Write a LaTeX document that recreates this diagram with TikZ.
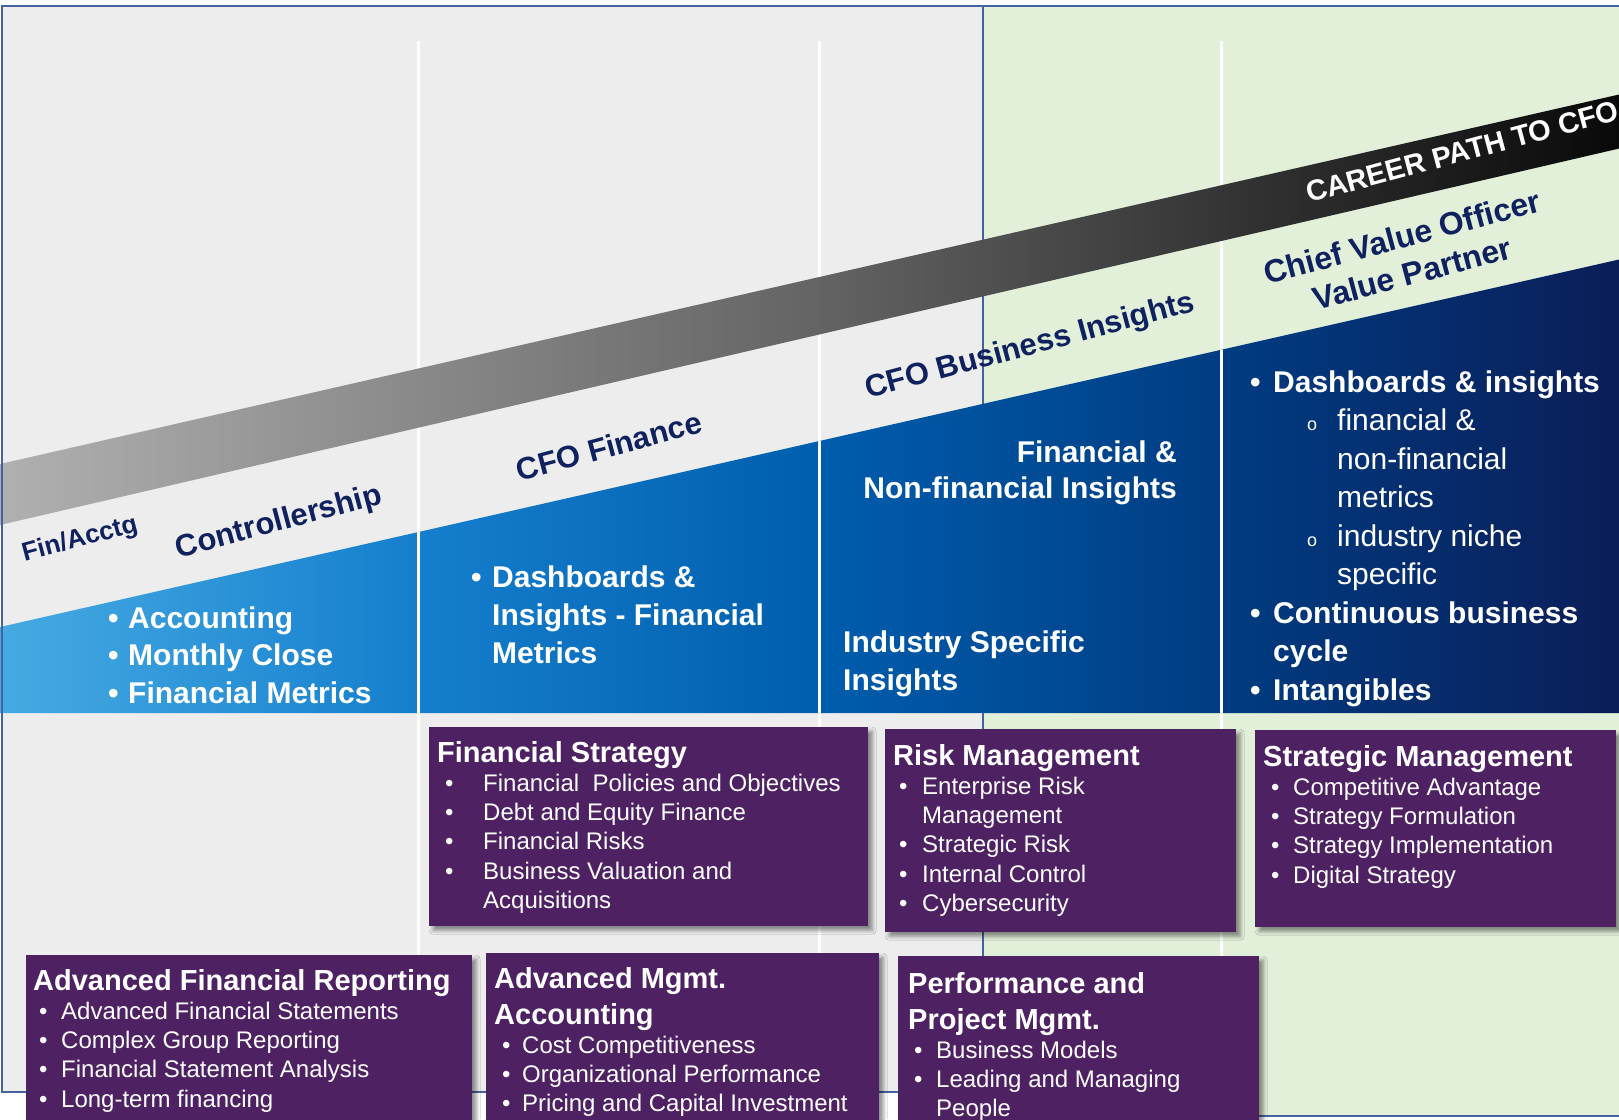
\documentclass[tikz,border=0pt]{standalone}
\usepackage{fontspec}
\setmainfont{Liberation Sans}
\usetikzlibrary{shadows.blur}

\definecolor{panelgray}{HTML}{EDEDED}
\definecolor{panelgreen}{HTML}{E2EFD9}
\definecolor{edgeblue}{HTML}{46629E}
\definecolor{labelnavy}{HTML}{10215F}
\definecolor{cardpurple}{HTML}{4E2163}
\definecolor{blueA}{HTML}{46AAE2}
\definecolor{blueB}{HTML}{1680CE}
\definecolor{blueC}{HTML}{005EAE}
\definecolor{blueD}{HTML}{003C82}
\definecolor{blueE}{HTML}{0B1D57}
\definecolor{pathA}{HTML}{B0B0B0}
\definecolor{pathB}{HTML}{646464}
\definecolor{pathC}{HTML}{353535}
\definecolor{pathD}{HTML}{080808}

\pgfdeclarehorizontalshading{bluefade}{100bp}{color(0bp)=(blueA); color(25bp)=(blueA); color(37.5bp)=(blueB); color(50bp)=(blueC); color(62.5bp)=(blueD); color(75bp)=(blueE); color(100bp)=(blueE)}
\pgfdeclarehorizontalshading{pathfade}{100bp}{color(0bp)=(pathA); color(25bp)=(pathA); color(50bp)=(pathB); color(62.5bp)=(pathC); color(75bp)=(pathD); color(100bp)=(pathD)}

% bullet lists
\newlength\bulin
\newlength\bulgap
\newcommand\bit[1]{\par\noindent\hspace*{\bulin}\makebox[\dimexpr\bulgap-\bulin\relax][l]{\textbullet}#1}
\newcommand\cont[1]{\par\noindent\hspace*{\bulgap}#1}
\newcommand\subit[1]{\par\noindent\hspace*{57pt}\makebox[30pt][l]{\fontsize{18}{18}\selectfont o}#1}
\newcommand\subcont[1]{\par\noindent\hspace*{87pt}#1}
\newcommand\cardtitle[1]{{\bfseries\fontsize{29}{36}\selectfont #1\par}}
\newcommand\cardlist[3]{\begin{minipage}[t]{460pt}\setlength\bulin{#1}\setlength\bulgap{#2}\fontsize{24}{29.3}\selectfont #3\par\end{minipage}}
\newcommand\bluelist[4]{\begin{minipage}[t]{420pt}\setlength\bulin{#1}\setlength\bulgap{#2}\bfseries\fontsize{30}{#3}\selectfont #4\par\end{minipage}}

\begin{document}
\begin{tikzpicture}[x=1pt, y=-1pt,
	rim/.style={draw=edgeblue, line width=1.5pt},
	divider/.style={draw=white, line width=3pt},
	lbl/.style={rotate=15, inner sep=0pt, text=labelnavy, font=\bfseries\fontsize{31}{38}\selectfont},
	bluetext/.style={anchor=base west, inner sep=0pt, text=white},
	card/.style={anchor=north west, fill=cardpurple, inner sep=0pt,
		blur shadow={shadow xshift=4pt, shadow yshift=-4pt, shadow blur radius=4pt, shadow opacity=45}},
	cardtext/.style={anchor=base west, inner sep=0pt, text=white}]

	\clip (0,0) rectangle (1619,1119);
	\fill[white] (0,0) rectangle (1619,1119);

	% panels
	\draw[rim, fill=panelgray] (2,6) rectangle (983,1092);
	\draw[rim, fill=panelgreen] (983,6) rectangle (1630,1116);
	\foreach \x in {418,819,1221}
		\draw[divider] (\x,41) -- (\x,1119);

	% career path band and blue stage area
	\shade[shading=pathfade] (0,464) -- (1630,92) -- (1630,146) -- (0,525) -- cycle;
	\shade[shading=bluefade] (0,627) -- (1630,257) -- (1630,713) -- (0,713) -- cycle;
	\begin{scope}
		\clip (0,627) -- (1630,257) -- (1630,713) -- (0,713) -- cycle;
		\foreach \x in {418,819,1221}
			\draw[divider] (\x,250) -- (\x,720);
	\end{scope}
	\draw[rim] (2,6) -- (2,1092);

	% stage labels
	\node[lbl, font=\bfseries\fontsize{26}{30}\selectfont] (finacctg) at (80,540) {Fin/Acctg};
	\node[lbl] (ctrl) at (279,523) {Controllership};
	\node[lbl] (cfofin) at (609,446) {CFO Finance};
	\node[lbl] (cfobi) at (1030,347) {CFO Business Insights};
	\node[lbl, anchor=base west, text=white, font=\bfseries\fontsize{29}{34}\selectfont] (career) at (1309,203) {CAREER PATH TO CFO};
	\node[lbl, align=center, font=\bfseries\fontsize{32}{38}\selectfont] (cvo) at (1407,255) {Chief Value Officer\\Value Partner};

	% stage contents
	\node[bluetext] (ctrlitems) at (108,628) {\bluelist{0pt}{20pt}{37.5}{%
		\bit{Accounting}\bit{Monthly Close}\bit{Financial Metrics}}};
	\node[bluetext] (finitems) at (471,587) {\bluelist{0pt}{21pt}{38}{%
		\bit{Dashboards \&}\cont{Insights - Financial}\cont{Metrics}}};
	\node[bluetext, anchor=base east] (fnfitems) at (1177,462) {\begin{minipage}[t]{400pt}\raggedleft
		\bfseries\fontsize{30}{36.5}\selectfont Financial \&\\Non-financial Insights\end{minipage}};
	\node[bluetext] (inditems) at (843,652) {\bluelist{0pt}{0pt}{38}{%
		\cont{Industry Specific}\cont{Insights}}};
	\node[bluetext] (cvoitems) at (1250,392) {\bluelist{0pt}{23pt}{38.5}{%
		\bit{Dashboards \& insights}
		{\mdseries\subit{financial \&}\subcont{non-financial}\subcont{metrics}
		\subit{industry niche}\subcont{specific}\par}
		\bit{Continuous business}\cont{cycle}\bit{Intangibles}}};

	% skill cards
	\node[card, minimum width=439pt, minimum height=199pt] (fs) at (429,727) {};
	\node[cardtext] (fs-text) at ([shift={(8,35)}]fs.north west) {\cardlist{8pt}{46pt}{%
		\cardtitle{Financial Strategy}
		\bit{Financial~~Policies and Objectives}\bit{Debt and Equity Finance}
		\bit{Financial Risks}\bit{Business Valuation and}\cont{Acquisitions}}};

	\node[card, minimum width=351pt, minimum height=203pt] (risk) at (885,729) {};
	\node[cardtext] (risk-text) at ([shift={(8,36)}]risk.north west) {\cardlist{6pt}{29pt}{%
		\cardtitle{Risk Management}
		\bit{Enterprise Risk}\cont{Management}\bit{Strategic Risk}
		\bit{Internal Control}\bit{Cybersecurity}}};

	\node[card, minimum width=361pt, minimum height=197pt] (stratm) at (1255,730) {};
	\node[cardtext] (stratm-text) at ([shift={(8,36)}]stratm.north west) {\cardlist{8pt}{30pt}{%
		\cardtitle{Strategic Management}
		\bit{Competitive Advantage}\bit{Strategy Formulation}
		\bit{Strategy Implementation}\bit{Digital Strategy}}};

	\node[card, minimum width=446pt, minimum height=180pt] (afr) at (26,955) {};
	\node[cardtext] (afr-text) at ([shift={(7,35)}]afr.north west) {\cardlist{6pt}{28pt}{%
		\cardtitle{Advanced Financial Reporting}
		\bit{Advanced Financial Statements}\bit{Complex Group Reporting}
		\bit{Financial Statement Analysis}\bit{Long-term financing}}};

	\node[card, minimum width=393pt, minimum height=180pt] (ama) at (486,953) {};
	\node[cardtext] (ama-text) at ([shift={(8,35)}]ama.north west) {\cardlist{8pt}{28pt}{%
		\cardtitle{Advanced Mgmt.\\Accounting}
		\bit{Cost Competitiveness}\bit{Organizational Performance}
		\bit{Pricing and Capital Investment}}};

	\node[card, minimum width=361pt, minimum height=180pt] (ppm) at (898,956) {};
	\node[cardtext] (ppm-text) at ([shift={(10,37)}]ppm.north west) {\cardlist{6pt}{28pt}{%
		\cardtitle{Performance and\\Project Mgmt.}
		\bit{Business Models}\bit{Leading and Managing}\cont{People}}};
\end{tikzpicture}
\end{document}
